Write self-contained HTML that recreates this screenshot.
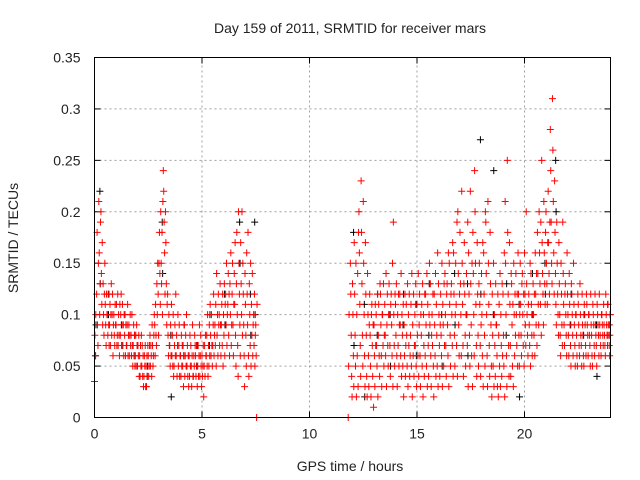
<!DOCTYPE html>
<html><head><meta charset="utf-8"><style>
html,body{margin:0;padding:0;background:#fff;}
svg{display:block;font-family:"Liberation Sans",sans-serif;}
</style></head><body>
<svg id="chart" width="640" height="480" xmlns="http://www.w3.org/2000/svg">
<text x="350" y="33" font-size="14" text-anchor="middle" fill="#222">Day 159 of 2011, SRMTID for receiver mars</text>
<text x="350" y="471" font-size="14" text-anchor="middle" fill="#222">GPS time / hours</text>
<text transform="translate(18,238) rotate(-90)" font-size="14" text-anchor="middle" fill="#222">SRMTID / TECUs</text>
<g id="grid"></g>
<g id="ticks"></g>
<g id="black"></g>
<g id="red"></g>
<rect x="94.5" y="57.5" width="516" height="360" fill="none" stroke="#000"/>
</svg>
<script>
const xTicks=[0,5,10,15,20];
const yTicks=[0,0.05,0.1,0.15,0.2,0.25,0.3,0.35];
const yTickLabels=["0","0.05","0.1","0.15","0.2","0.25","0.3","0.35"];
const redRows=[
[0.0,.035,.08,.06,.1],[0.1,.12,.18,.09,.07,.15],[0.2,.21,.16,.1,.13,.19],[0.3,.2,.14,.11,.17,.09],[0.4,.13,.1,.08,.12,.15],
[0.5,.11,.09,.07,.12,.1],[0.6,.1,.08,.12,.09,.07],[0.7,.09,.11,.07,.1,.13],[0.8,.08,.1,.12,.06,.09],[0.9,.1,.08,.07,.11,.09],
[1.0,.09,.11,.07,.08,.12],[1.1,.07,.1,.08,.06,.11],[1.2,.08,.1,.12,.07,.09],[1.3,.11,.07,.09,.06,.1],[1.4,.08,.1,.06,.09,.07],
[1.5,.07,.09,.11,.06,.08],[1.6,.09,.06,.08,.1,.07],[1.7,.08,.06,.1,.07,.05],[1.8,.07,.09,.06,.08,.05],[1.9,.06,.08,.05,.09,.07],
[2.0,.05,.07,.06,.08,.04],[2.1,.06,.04,.07,.05,.08],[2.2,.05,.07,.04,.06,.03],[2.3,.04,.06,.05,.07,.03],[2.4,.05,.03,.06,.04,.07],
[2.5,.06,.04,.05,.07,.08],[2.6,.05,.07,.06,.04,.09],[2.7,.07,.05,.06,.08,.1],[2.8,.09,.06,.11,.08,.07],[2.9,.13,.1,.15,.12,.08],
[3.0,.15,.18,.14,.11,.2],[3.1,.15,.13,.18,.1,.21],[3.2,.24,.22,.19,.16,.12],[3.3,.2,.17,.13,.09,.11],[3.4,.12,.08,.06,.1,.07],
[3.5,.07,.05,.09,.06,.11],[3.6,.06,.08,.05,.1,.04],[3.7,.05,.07,.09,.06,.12],[3.8,.06,.08,.04,.07,.1],[3.9,.05,.07,.09,.04,.06],
[4.0,.06,.04,.08,.05,.07],[4.1,.05,.07,.03,.06,.09],[4.2,.04,.06,.08,.05,.1],[4.3,.05,.07,.04,.06,.03],[4.4,.06,.04,.08,.05,.07],
[4.5,.05,.03,.06,.09,.04],[4.6,.04,.06,.05,.08,.07],[4.7,.06,.04,.07,.05,.03],[4.8,.05,.07,.04,.06,.09],[4.9,.04,.06,.08,.05,.03],
[5.0,.06,.04,.05,.07,.02],[5.1,.05,.07,.04,.08,.06],[5.2,.06,.08,.05,.1,.04],[5.3,.07,.05,.09,.06,.11],[5.4,.08,.06,.1,.07,.05],
[5.5,.07,.09,.12,.06,.08],[5.6,.09,.07,.11,.05,.14],[5.7,.08,.1,.06,.12,.09],[5.8,.1,.07,.13,.09,.06],[5.9,.09,.11,.07,.12,.05],
[6.0,.1,.08,.13,.06,.11],[6.1,.12,.09,.15,.07,.1],[6.2,.11,.14,.08,.12,.06],[6.3,.13,.1,.16,.07,.09],[6.4,.12,.15,.09,.06,.11],
[6.5,.14,.11,.17,.08,.05],[6.6,.13,.18,.1,.07,.04],[6.7,.2,.15,.12,.09,.06],[6.8,.17,.13,.1,.2,.08],[6.9,.15,.12,.09,.06,.03],
[7.0,.14,.11,.08,.05,.16],[7.1,.12,.09,.18,.06,.04],[7.2,.13,.1,.07,.15,.05],[7.3,.11,.08,.14,.06,.09],[7.4,.1,.07,.12,.05,.08],
[7.5,.09,.06,.0,.11],
[11.8,.0,.05,.1],[11.9,.15,.12,.08,.04,.02],[12.0,.13,.1,.06,.03,.17],[12.1,.12,.08,.05,.15,.02],[12.2,.1,.06,.14,.03,.18],
[12.3,.2,.16,.11,.07,.04],[12.4,.23,.18,.13,.08,.05],[12.5,.21,.15,.1,.06,.03],[12.6,.17,.12,.08,.04,.02],[12.7,.14,.1,.06,.03,.09],
[12.8,.12,.08,.05,.02,.1],[12.9,.11,.07,.04,.09,.01],[13.0,.09,.06,.03,.11,.07],[13.1,.1,.07,.05,.12,.02],[13.2,.08,.11,.06,.04,.13],
[13.3,.12,.09,.06,.03,.1],[13.4,.1,.07,.13,.05,.08],[13.5,.11,.08,.06,.14,.03],[13.6,.09,.12,.07,.05,.1],[13.7,.13,.1,.07,.04,.11],
[13.8,.12,.09,.06,.15,.03],[13.9,.19,.1,.07,.05,.12],[14.0,.11,.08,.13,.06,.03],[14.1,.1,.07,.12,.05,.09],[14.2,.12,.09,.06,.14,.04],
[14.3,.1,.08,.05,.11,.02],[14.4,.09,.06,.12,.04,.07],[14.5,.11,.08,.05,.13,.03],[14.6,.1,.07,.12,.04,.06],[14.7,.08,.11,.05,.14,.02],
[14.8,.09,.06,.12,.04,.07],[14.9,.1,.07,.13,.05,.03],[15.0,.11,.08,.06,.14,.04],[15.1,.09,.12,.06,.03,.1],[15.2,.08,.11,.05,.13,.02],
[15.3,.1,.07,.04,.12,.06],[15.4,.12,.09,.05,.14,.03],[15.5,.11,.07,.04,.1,.15],[15.6,.09,.13,.06,.03,.08],[15.7,.1,.07,.12,.05,.02],
[15.8,.12,.09,.06,.14,.04],[15.9,.11,.08,.05,.16,.03],[16.0,.13,.1,.07,.04,.09],[16.1,.12,.08,.06,.15,.03],[16.2,.11,.09,.05,.13,.07],
[16.3,.14,.1,.07,.04,.12],[16.4,.13,.09,.06,.16,.03],[16.5,.15,.11,.08,.05,.12],[16.6,.13,.1,.07,.17,.04],[16.7,.16,.12,.08,.05,.1],
[16.8,.15,.11,.07,.19,.04],[16.9,.2,.14,.09,.06,.12],[17.0,.18,.13,.1,.06,.22],[17.1,.15,.11,.07,.04,.13],[17.2,.17,.12,.08,.05,.1],
[17.3,.14,.1,.07,.19,.03],[17.4,.16,.12,.08,.05,.22],[17.5,.13,.09,.06,.15,.03],[17.6,.18,.14,.1,.06,.24],[17.7,.2,.15,.11,.07,.04],
[17.8,.17,.12,.08,.05,.13],[17.9,.15,.11,.07,.04,.09],[18.0,.14,.1,.06,.17,.03],[18.1,.16,.12,.08,.05,.2],[18.2,.19,.14,.1,.06,.03],
[18.3,.21,.15,.11,.07,.04],[18.4,.18,.13,.09,.05,.02],[18.5,.12,.08,.05,.15,.03],[18.6,.1,.07,.04,.13,.09],[18.7,.09,.06,.03,.12,.02],
[18.8,.08,.11,.05,.14,.03],[18.9,.1,.07,.04,.13,.06],[19.0,.12,.08,.05,.16,.02],[19.1,.21,.15,.1,.06,.03],[19.2,.25,.18,.12,.07,.04],
[19.3,.17,.11,.07,.04,.14],[19.4,.13,.09,.05,.11,.03],[19.5,.15,.1,.06,.12,.08],[19.6,.14,.1,.07,.12,.05],[19.7,.16,.12,.08,.05,.1],
[19.8,.15,.11,.08,.06,.13],[19.9,.14,.1,.07,.12,.05],[20.0,.16,.12,.09,.07,.2],[20.1,.13,.1,.08,.06,.11],[20.2,.12,.09,.07,.15,.05],
[20.3,.14,.11,.08,.06,.1],[20.4,.13,.1,.08,.12,.06],[20.5,.16,.12,.09,.14,.07],[20.6,.18,.14,.11,.09,.2],[20.7,.16,.13,.11,.19,.08],
[20.8,.25,.17,.14,.12,.09],[20.9,.21,.16,.13,.11,.18],[21.0,.2,.15,.13,.11,.17],[21.1,.22,.17,.14,.12,.19],[21.2,.28,.24,.19,.15,.13],
[21.3,.31,.26,.21,.16,.12],[21.4,.23,.18,.14,.11,.09],[21.5,.19,.15,.12,.1,.08],[21.6,.17,.13,.1,.08,.06],[21.7,.15,.12,.09,.07,.19],
[21.8,.14,.11,.09,.07,.12],[21.9,.13,.1,.08,.06,.16],[22.0,.12,.1,.08,.06,.14],[22.1,.11,.09,.07,.05,.13],[22.2,.12,.1,.08,.06,.15],
[22.3,.11,.09,.07,.05,.1],[22.4,.1,.08,.06,.05,.12],[22.5,.11,.09,.07,.06,.13],[22.6,.1,.08,.07,.05,.12],[22.7,.09,.08,.06,.05,.11],
[22.8,.1,.09,.07,.06,.12],[22.9,.11,.09,.08,.06,.1],[23.0,.1,.08,.07,.05,.12],[23.1,.09,.08,.06,.05,.11],[23.2,.1,.09,.07,.06,.12],
[23.3,.09,.08,.07,.05,.11],[23.4,.1,.09,.08,.06,.12],[23.5,.09,.08,.07,.06,.1],[23.6,.1,.09,.08,.07,.11],[23.7,.09,.08,.07,.06,.12],
[23.8,.1,.09,.08,.07,.11],[23.9,.09,.08,.07,.06,.1],[23.95,.09,.08,.1]
];
const blackRows=[
[0.05,.06,.09],[0.25,.22,.13],[0.65,.1,.12],[1.25,.09,.07],[1.85,.06,.08],[2.45,.04,.05],[3.15,.19,.14],[3.55,.08,.02],
[4.15,.06,.09],[4.75,.05,.07],[5.35,.07,.1],[6.05,.12,.09],[6.75,.19,.15],[7.25,.12,.08],[7.45,.19,.1],
[12.05,.18,.07],[12.55,.11,.02],[13.15,.08,.12],[13.75,.1,.05],[14.35,.09,.12],[14.95,.11,.06],[15.55,.08,.13],
[16.15,.1,.05],[16.75,.14,.09],[17.35,.13,.06],[17.95,.27,.12],[18.55,.1,.24],[19.15,.08,.13],[19.75,.11,.02],
[20.35,.1,.14],[20.95,.15,.12],[21.45,.25,.2],[22.15,.09,.12],[22.75,.08,.1],[23.35,.09,.04],[23.85,.08,.11]
];
const X0=94.5,X1=610.5,Y0=417.5,Y1=57.5,XMAX=24,YMAX=0.35;
const sx=v=>X0+(X1-X0)*v/XMAX;
const sy=v=>Y0-(Y0-Y1)*v/YMAX;
const NS="http://www.w3.org/2000/svg";
function mk(tag,parent,attrs){const e=document.createElementNS(NS,tag);for(const k in attrs)e.setAttribute(k,attrs[k]);parent.appendChild(e);return e;}
const grid=document.getElementById('grid'),ticks=document.getElementById('ticks');
xTicks.forEach(t=>{
  const x=sx(t);
  if(t>0){const g=mk('line',grid,{x1:x,y1:Y0,x2:x,y2:Y1,stroke:'#a0a0a0','stroke-dasharray':'2,3'});
  
  }
  const tl=mk('line',ticks,{x1:x,y1:Y0,x2:x,y2:Y0-6,stroke:'#000'});
  
  
  const tl2=mk('line',ticks,{x1:x,y1:Y1,x2:x,y2:Y1+6,stroke:'#000'});
  
  
  const lb=mk('text',ticks,{x:x,y:Y0+21,'font-size':14,'text-anchor':'middle',fill:'#222'});
  lb.textContent=String(t);
  
  
});
yTicks.forEach((t,i)=>{
  const y=sy(t);
  if(t>0&&t<YMAX){const g=mk('line',grid,{x1:X0,y1:y,x2:X1,y2:y,stroke:'#a0a0a0','stroke-dasharray':'2,3'});
  
  }
  const tl=mk('line',ticks,{x1:X0,y1:y,x2:X0+6,y2:y,stroke:'#000'});
  
  
  const tl2=mk('line',ticks,{x1:X1,y1:y,x2:X1-6,y2:y,stroke:'#000'});
  
  
  const lb=mk('text',ticks,{x:X0-14,y:y+5,'font-size':14,'text-anchor':'end',fill:'#222'});
  lb.textContent=yTickLabels[i];
  
  
});
function plot(rows,gid,color,name){
  const g=document.getElementById(gid);
  rows.forEach(r=>{
    for(let i=1;i<r.length;i++){
      const x=sx(r[0]+(i-1)*0.02),y=sy(r[i]);
      const p=mk('path',g,{d:`M${x-3.5} ${y}h7M${x} ${y-3.5}v7`,stroke:color,'stroke-width':1,fill:'none'});
      
      
    }
  });
}
plot(blackRows,'black','#000','black-point');
plot(redRows,'red','#ff0000','red-point');
</script>
</body></html>
